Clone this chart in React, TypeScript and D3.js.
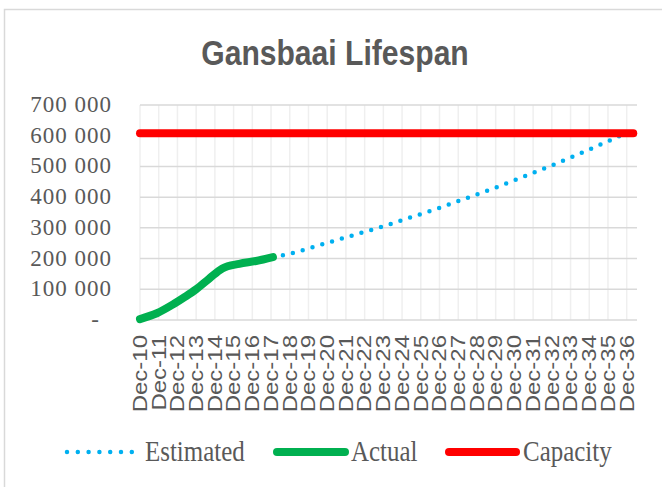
import React from 'react'
import * as d3 from 'd3'

const W = 662
const H = 487

// category labels, one per year (Dec-10 .. Dec-36)
const categories = [
  'Dec-10', 'Dec-11', 'Dec-12', 'Dec-13', 'Dec-14', 'Dec-15', 'Dec-16', 'Dec-17', 'Dec-18',
  'Dec-19', 'Dec-20', 'Dec-21', 'Dec-22', 'Dec-23', 'Dec-24', 'Dec-25', 'Dec-26', 'Dec-27',
  'Dec-28', 'Dec-29', 'Dec-30', 'Dec-31', 'Dec-32', 'Dec-33', 'Dec-34', 'Dec-35', 'Dec-36',
]

// [years since Dec-10, volume]
const actual: [number, number][] = [
  [0, 3000], [0.9, 22000], [1.8, 52000], [2.4, 75000], [3.0, 100000],
  [3.7, 135000], [4.4, 168000], [5.3, 183000], [6.2, 192000], [7.1, 205000],
]

const estimated: [number, number][] = [
  [7.1, 205000], [8, 216000], [9, 233000], [10, 251000], [11, 269000], [12, 287000],
  [13, 305000], [14, 325000], [15, 345000], [16, 365000], [17, 387000], [18, 409000],
  [19, 431000], [20, 455000], [21, 479000], [22, 503000], [23, 529000], [24, 555000],
  [25, 582000], [25.9, 607000],
]

const capacity: [number, number][] = [[0, 608000], [26.35, 608000]]

const yTicks = [0, 100000, 200000, 300000, 400000, 500000, 600000, 700000]

const grey = '#595959'
const sx = 0.86

const x = d3.scaleLinear().domain([0, 26.55]).range([140, 637])
const y = d3.scaleLinear().domain([0, 700000]).range([320, 105])

const line = d3
  .line<[number, number]>()
  .x(d => x(d[0]))
  .y(d => y(d[1]))
const smooth = line.curve(d3.curveMonotoneX)

const fmt = (v: number) => (v === 0 ? '-' : d3.format(',')(v).replace(/,/g, ' '))

const Legend = () => {
  const ly = 452
  return (
    <g>
      <line x1={67} x2={133} y1={ly} y2={ly} stroke="#00b0f0" strokeWidth={4.5}
        strokeLinecap="round" strokeDasharray="0 10.8" />
      <g transform={`translate(145 ${ly + 9}) scale(${sx} 1)`}>
        <text fontFamily="Liberation Serif" fontSize={29} fill={grey}>Estimated</text>
      </g>
      <line x1={277} x2={345} y1={ly} y2={ly} stroke="#00b050" strokeWidth={8} strokeLinecap="round" />
      <g transform={`translate(351 ${ly + 9}) scale(${sx} 1)`}>
        <text fontFamily="Liberation Serif" fontSize={29} fill={grey}>Actual</text>
      </g>
      <line x1={449} x2={516} y1={ly} y2={ly} stroke="#ff0000" strokeWidth={8} strokeLinecap="round" />
      <g transform={`translate(523 ${ly + 9}) scale(${sx} 1)`}>
        <text fontFamily="Liberation Serif" fontSize={29} fill={grey}>Capacity</text>
      </g>
    </g>
  )
}

export default function App() {
  const xTicks = d3.range(categories.length)
  return (
    <svg width={W} height={H} style={{ position: 'absolute', left: 0, top: 0, background: '#fff' }}>
      <rect width={W} height={H} fill="#fff" />
      <path d={`M4.5 ${H} V9.5 H${W}`} fill="none" stroke="#d9d9d9" strokeWidth={1.5} />

      <g transform={`translate(335 65) scale(${sx} 1)`}>
        <text textAnchor="middle" fontFamily="Liberation Sans" fontWeight="bold" fontSize={35} fill={grey}>
          Gansbaai Lifespan
        </text>
      </g>

      {/* grid */}
      {xTicks.map(i => (
        <line key={'v' + i} x1={x(i)} x2={x(i)} y1={y(700000)} y2={y(0)} stroke="#efefef" strokeWidth={1.5} />
      ))}
      {yTicks.slice(1).map(t => (
        <line key={'h' + t} x1={x(0)} x2={x.range()[1]} y1={y(t)} y2={y(t)} stroke="#d9d9d9" strokeWidth={1.5} />
      ))}
      <line x1={x(0)} x2={x.range()[1]} y1={y(0)} y2={y(0)} stroke="#d9d9d9" strokeWidth={1.5} />

      {/* y labels */}
      {yTicks.map(t => (
        <text key={'yl' + t} x={t === 0 ? 100 : 112} y={y(t) + 7} textAnchor="end"
          fontFamily="Liberation Serif" fontSize={23} letterSpacing={1} fill={grey}>
          {fmt(t)}
        </text>
      ))}

      {/* x labels */}
      {categories.map((c, i) => (
        <g key={c} transform={`translate(${x(i)} 335) scale(0.84 1) rotate(-90)`}>
          <text textAnchor="end" dominantBaseline="central" fontFamily="Liberation Sans"
            fontSize={24} fill={grey}>
            {c}
          </text>
        </g>
      ))}

      {/* series */}
      <path d={smooth(estimated) ?? ''} fill="none" stroke="#00b0f0" strokeWidth={4.5}
        strokeLinecap="round" strokeDasharray="0 10.2" />
      <path d={smooth(actual) ?? ''} fill="none" stroke="#00b050" strokeWidth={8}
        strokeLinecap="round" strokeLinejoin="round" />
      <path d={line.curve(d3.curveLinear)(capacity) ?? ''} fill="none" stroke="#ff0000" strokeWidth={8}
        strokeLinecap="round" />

      <Legend />
    </svg>
  )
}
